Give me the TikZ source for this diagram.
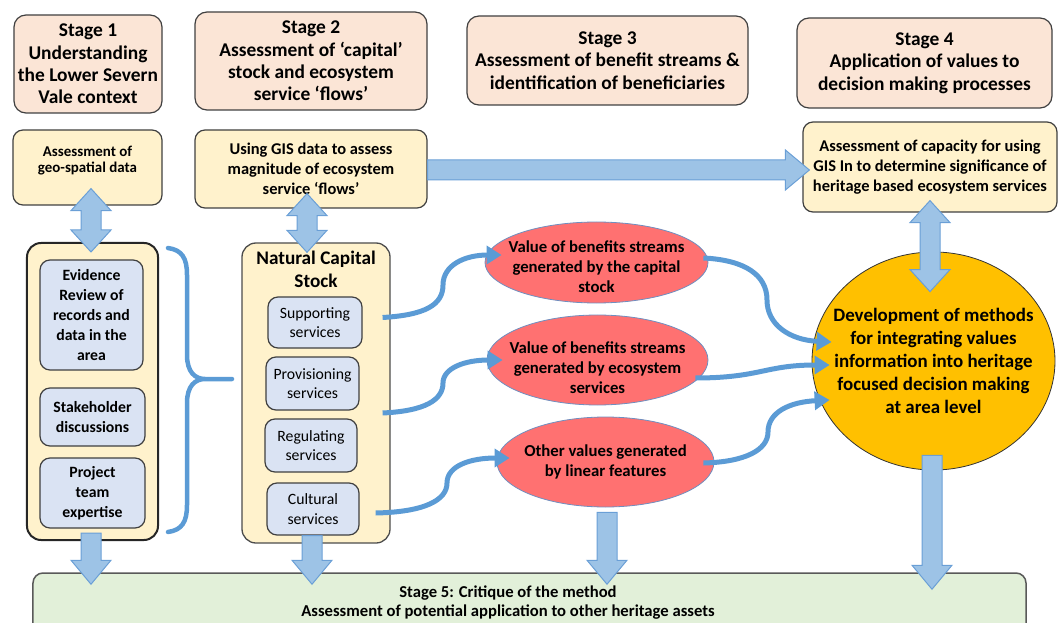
\documentclass[tikz,border=0pt]{standalone}
\usepackage{fontspec}
\setmainfont{Carlito}
\usetikzlibrary{calc,shapes.geometric,arrows.meta}
\definecolor{peach}{HTML}{FBE5D6}
\definecolor{paleyellow}{HTML}{FFF2CC}
\definecolor{itemblue}{HTML}{DAE3F3}
\definecolor{palegreen}{HTML}{E2F0D9}
\definecolor{ovalred}{HTML}{FF7171}
\definecolor{ovalline}{HTML}{6F8FC0}
\definecolor{sun}{HTML}{FFC000}
\definecolor{arrowfill}{HTML}{9DC3E6}
\definecolor{arrowline}{HTML}{6A9FD6}
\definecolor{flowblue}{HTML}{5B9BD5}
% block arrows between two points
\newcommand{\onearrow}[2]{%
  \coordinate (fa) at (#1); \coordinate (fb) at (#2);
  \coordinate (fh) at ($(fb)!24bp!(fa)$);
  \draw[fatarrow] ($(fa)!10bp!90:(fb)$) -- ($(fh)!10bp!90:(fb)$) -- ($(fh)!20bp!90:(fb)$) -- (fb)
    -- ($(fh)!20bp!-90:(fb)$) -- ($(fh)!10bp!-90:(fb)$) -- ($(fa)!10bp!-90:(fb)$) -- cycle;}
\newcommand{\twoarrow}[2]{%
  \coordinate (fa) at (#1); \coordinate (fb) at (#2);
  \coordinate (fh) at ($(fb)!22bp!(fa)$); \coordinate (fg) at ($(fa)!22bp!(fb)$);
  \draw[fatarrow] (fa) -- ($(fg)!20bp!90:(fb)$) -- ($(fg)!10bp!90:(fb)$) -- ($(fh)!10bp!90:(fb)$) -- ($(fh)!20bp!90:(fb)$) -- (fb)
    -- ($(fh)!20bp!-90:(fb)$) -- ($(fh)!10bp!-90:(fb)$) -- ($(fg)!10bp!-90:(fb)$) -- ($(fg)!20bp!-90:(fb)$) -- cycle;}

\begin{document}
\begin{tikzpicture}[x=1bp,y=-1bp,line join=round,
	stagebox/.style={draw=black!75,line width=1.2bp,fill=peach,rounded corners=12bp,align=center,inner sep=1bp,font=\bfseries\fontsize{19.5}{22.5}\selectfont},
	notebox/.style={draw=black!75,line width=1.2bp,fill=paleyellow,rounded corners=10bp,align=center,inner sep=1bp,font=\bfseries\fontsize{16.5}{20}\selectfont},
	holder/.style={draw=black!85,line width=2bp,fill=paleyellow,rounded corners=14bp},
	itembox/.style={draw=black!75,line width=1.2bp,fill=itemblue,rounded corners=10bp,align=center,inner sep=1bp,font=\bfseries\fontsize{15.8}{20}\selectfont},
	servbox/.style={itembox,font=\fontsize{15.8}{19.5}\selectfont},
	oval/.style={ellipse,draw=ovalline,line width=0.8bp,fill=ovalred,inner sep=0pt},
	fatarrow/.style={draw=arrowline,fill=arrowfill,line width=1bp,line join=miter},
	flow/.style={draw=flowblue,line width=5bp,-{Triangle[length=15bp,width=18bp]}}]
	\useasboundingbox (0,0) rectangle (1059,623);
	\clip (0,0) rectangle (1059,623);
	%Stages
	\node[stagebox,minimum width=148bp,minimum height=98bp] (s1) at (88,64) {Stage 1\\Understanding\\the Lower Severn\\Vale context};
	\node[stagebox,minimum width=232bp,minimum height=98bp] (s2) at (311,61) {Stage 2\\Assessment of ‘capital’\\stock and ecosystem\\service ‘flows’};
	\node[stagebox,minimum width=281bp,minimum height=89bp] (s3) at (607.5,60.5) {Stage 3\\Assessment of benefit streams \&\\identification of beneficiaries};
	\node[stagebox,minimum width=255bp,minimum height=90bp] (s4) at (924.5,63) {Stage 4\\Application of values to\\decision making processes};
	%Second row
	\node[notebox,minimum width=149bp,minimum height=75bp,
		label={[align=center,yshift=7bp,font=\bfseries\fontsize{15}{15.5}\selectfont]center:{Assessment of\\geo-spatial data}}] (geo) at (87.5,167.5) {};
	\node[notebox,minimum width=232bp,minimum height=78bp] (gis) at (311,169) {Using GIS data to assess\\magnitude of ecosystem\\service ‘flows’};
	\node[notebox,minimum width=254bp,minimum height=90bp] (cap) at (930,167) {Assessment of capacity for using\\GIS In to determine significance of\\heritage based ecosystem services};
	%Evidence
	\node[holder,minimum width=131bp,minimum height=297bp] (left) at (92.5,391.5) {};
	\node[itembox,minimum width=103bp,minimum height=110bp] (ev) at (91.5,315) {Evidence\\Review of\\records and\\data in the\\area};
	\node[itembox,minimum width=105bp,minimum height=58bp] (sh) at (92.5,417) {Stakeholder\\discussions};
	\node[itembox,minimum width=105bp,minimum height=70bp] (pr) at (92.5,493) {Project\\team\\expertise};
	\draw[flowblue,line width=4.5bp,line cap=round] (168,248) .. controls (182,250) and (187,258) .. (187,275) -- (187,355)
		.. controls (187,372) and (195,379) .. (205,379) -- (232,379) (205,379) .. controls (195,379) and (187,386) .. (187,403)
		-- (187,505) .. controls (187,522) and (182,530) .. (168,532);
	%Natural capital
	\node[holder,draw=black!70,line width=1.3bp,minimum width=148bp,minimum height=300bp,
		label={[anchor=north,yshift=-5bp,align=center,font=\bfseries\fontsize{19.3}{23}\selectfont]north:{Natural Capital\\Stock}}] (ncs) at (316,393) {};
	\node[servbox,minimum width=94bp,minimum height=51bp] (sup) at (315,322.5) {Supporting\\services};
	\node[servbox,minimum width=93bp,minimum height=53bp] (prov) at (312.5,383.5) {Provisioning\\services};
	\node[servbox,minimum width=92bp,minimum height=53bp] (reg) at (311,445.5) {Regulating\\services};
	\node[servbox,minimum width=92bp,minimum height=52bp] (cult) at (313,509) {Cultural\\services};
	%Values
	\node[oval,minimum width=223bp,minimum height=81bp,
		label={[align=center,yshift=-4.5bp,font=\bfseries\fontsize{16.8}{20}\selectfont]center:{Value of benefits streams\\generated by the capital\\stock}}] (e1) at (596.5,262.5) {};
	\node[oval,minimum width=221bp,minimum height=90bp,
		label={[align=center,yshift=-8bp,font=\bfseries\fontsize{16.8}{20}\selectfont]center:{Value of benefits streams\\generated by ecosystem\\services}}] (e2) at (597.5,360) {};
	\node[oval,minimum width=217bp,minimum height=90bp,
		label={[align=center,font=\bfseries\fontsize{16.8}{20}\selectfont]center:{Other values generated\\by linear features}}] (e3) at (605.5,462) {};
	\node[ellipse,draw=black!80,line width=0.8bp,fill=sun,inner sep=0pt,minimum width=243bp,minimum height=218bp,
		label={[align=center,font=\bfseries\fontsize{19}{23}\selectfont]center:{Development of methods\\for integrating values\\information into heritage\\focused decision making\\at area level}}] (circ) at (933.5,361) {};
	%Stage 5
	\node[draw=black!65,line width=1.5bp,fill=palegreen,rounded corners=10bp,minimum width=993bp,minimum height=80bp,
		label={[anchor=north,xshift=-21.5bp,yshift=-10bp,align=center,font=\bfseries\fontsize{16.7}{19}\selectfont]north:{Stage 5: Critique of the method\\Assessment of potential application to other heritage assets}}] (s5) at (529.5,613) {};
	%Flows
	\draw[flow] ($(sup.east)+(20,-5)$) .. controls (425,315) and (443,305) .. (443,285) .. controls (443,265) and (465,255) .. ($(e1.west)+(17,-7.5)$);
	\draw[flow] ($(prov.east)+(23,29.5)$) .. controls (425,411) and (443,400) .. (443,383) .. controls (443,368) and (465,360) .. ($(e2.west)+(16,0)$);
	\draw[flow] ($(cult.east)+(16,4)$) .. controls (425,512) and (447,500) .. (447,483) .. controls (447,466) and (470,458) .. ($(e3.west)+(13,-4)$);
	\draw[flow] ($(e1.east)+(-5,-4.5)$) .. controls (745,260) and (767,275) .. (767,300) .. controls (767,325) and (790,340) .. ($(circ.west)+(20,-19)$);
	\draw[flow] ($(e2.east)+(-13,18)$) .. controls (760,378) and (765,365) .. ($(circ.west)+(18,4)$);
	\draw[flow] ($(e3.east)+(-11,1)$) .. controls (745,462) and (768,450) .. (768,432) .. controls (768,412) and (790,402) .. ($(circ.west)+(18,39)$);
	%Block arrows
	\twoarrow{$(geo.south)+(3.5,-17)$}{$(left.north)+(-1.5,10)$}
	\twoarrow{$(gis.south)+(-4,-15)$}{$(ncs.north)+(-9,10)$}
	\onearrow{$(gis.east)+(0,1)$}{$(cap.west)+(7,3)$}
	\twoarrow{$(cap.south)+(0,-12)$}{$(circ.north)+(-3.5,40)$}
	\onearrow{$(left.south)+(-1.5,-8)$}{$(left.south |- s5.north)+(-1.5,12)$}
	\onearrow{$(ncs.south)+(-4,-8)$}{$(ncs.south |- s5.north)+(-4,12)$}
	\onearrow{$(e3.south)+(1.5,5)$}{$(e3.south |- s5.north)+(1.5,12)$}
	\onearrow{$(circ.south)+(-1.5,-15)$}{$(circ.south |- s5.north)+(-1.5,17)$}
\end{tikzpicture}
\end{document}
